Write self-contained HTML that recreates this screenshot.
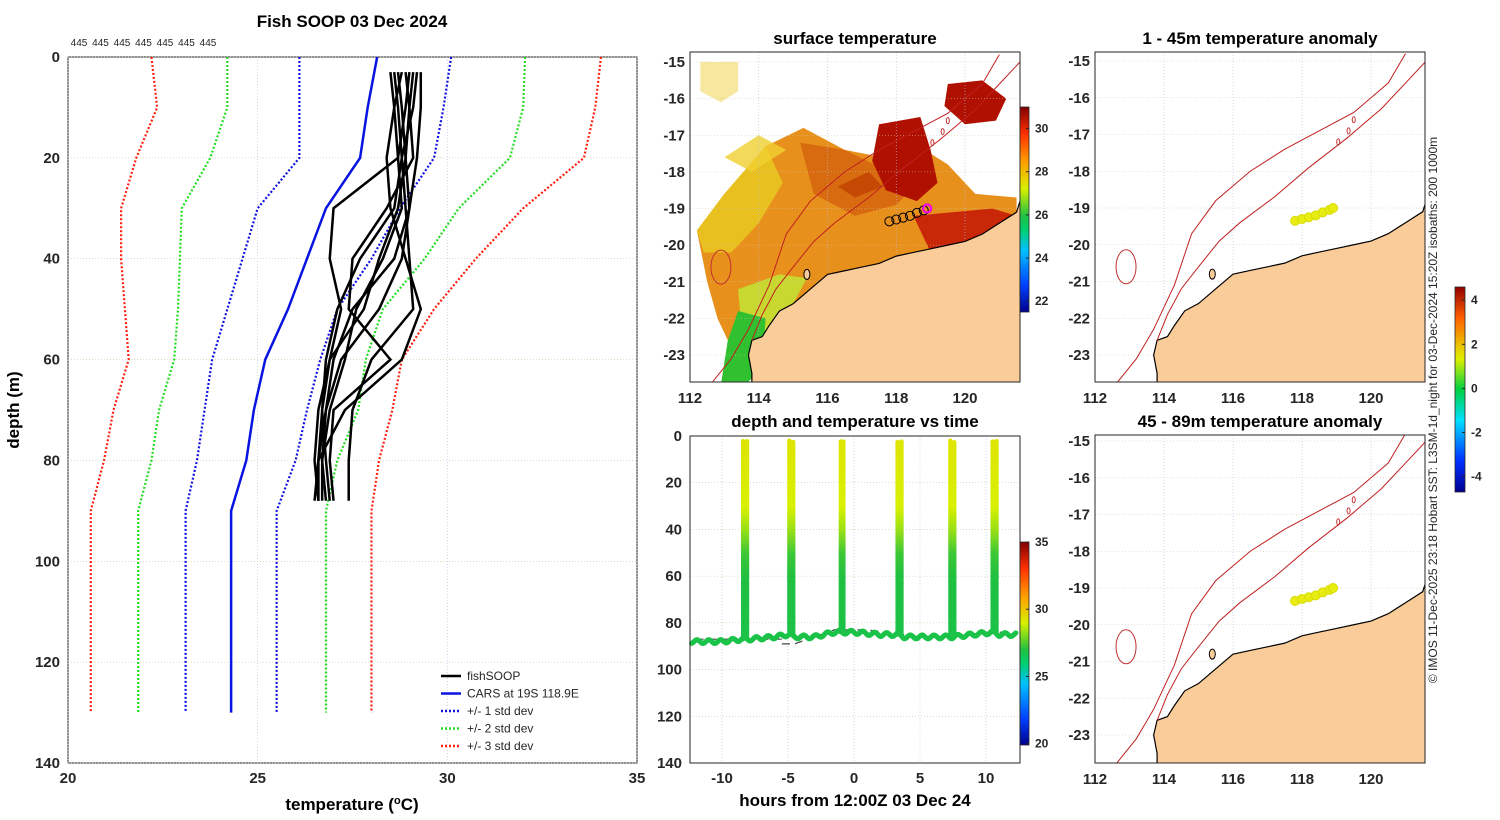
<!DOCTYPE html>
<html><head><meta charset="utf-8"><style>
html,body{margin:0;padding:0;background:#fff;}
svg{display:block;font-family:"Liberation Sans",sans-serif;}
.tk{font-size:15px;font-weight:bold;fill:#262626;}
.ti{font-size:17px;font-weight:bold;fill:#000;}
</style></head><body>
<svg id="fig" width="1500" height="820" viewBox="0 0 1500 820">
<defs>
<linearGradient id="jet" x1="0" y1="1" x2="0" y2="0">
<stop offset="0" stop-color="#00008f"/><stop offset="0.13" stop-color="#0040ff"/><stop offset="0.3" stop-color="#00c0ff"/><stop offset="0.4" stop-color="#00d070"/><stop offset="0.47" stop-color="#20c040"/><stop offset="0.6" stop-color="#d8f000"/><stop offset="0.73" stop-color="#ffa000"/><stop offset="0.87" stop-color="#ff3000"/><stop offset="1" stop-color="#800000"/>
</linearGradient>
<linearGradient id="jet2" x1="0" y1="1" x2="0" y2="0">
<stop offset="0" stop-color="#00008f"/><stop offset="0.15" stop-color="#0030ff"/><stop offset="0.35" stop-color="#00e0ff"/><stop offset="0.5" stop-color="#00d040"/><stop offset="0.65" stop-color="#e0f000"/><stop offset="0.85" stop-color="#ff6000"/><stop offset="1" stop-color="#900000"/>
</linearGradient>
<clipPath id="cm1"><rect x="690" y="52" width="330" height="330"/></clipPath>
<clipPath id="cm2"><rect x="1095" y="52" width="330" height="330"/></clipPath>
<clipPath id="cm3"><rect x="1095" y="435" width="330" height="328"/></clipPath>
</defs>
<g id="root"></g>
</svg>
<script>
// ---------- data ----------
const cdDepth=[0,10,20,30,40,50,60,70,80,90,130];
const carsT=[28.15,27.9,27.7,26.8,26.3,25.8,25.2,24.9,24.7,24.3,24.3];
const s1L=[26.1,26.1,26.1,25.0,24.6,24.2,23.8,23.6,23.4,23.1,23.1];
const s1R=[30.1,29.9,29.65,28.75,28.0,27.1,26.65,26.3,26.0,25.5,25.5];
const s2L=[24.2,24.2,23.75,23.0,22.95,22.9,22.8,22.4,22.2,21.85,21.85];
const s2R=[32.05,32.0,31.65,30.3,29.4,28.3,27.85,27.65,27.1,26.8,26.8];
const s3L=[22.2,22.35,21.8,21.4,21.4,21.5,21.6,21.2,20.95,20.6,20.6];
const s3R=[34.05,33.9,33.6,32.0,30.75,29.65,28.8,28.55,28.2,28.0,28.0];
const fishDepth=[3,10,20,30,40,50,60,70,80,88];
const fish1=[29.3,29.3,29.2,29.0,28.8,28.2,27.2,26.8,26.6,26.6];
const fish2=[28.7,28.8,28.9,29.0,28.6,27.5,27.0,26.8,26.7,26.7];
const fish3=[29.0,28.9,28.7,27.0,26.9,27.2,26.9,26.7,26.6,26.5];
const fish4=[28.6,28.7,28.8,28.9,29.0,29.1,28.0,27.5,27.4,27.4];
const fish5=[29.2,29.1,28.8,28.6,27.7,27.1,26.8,26.7,26.8,26.9];
const fish6=[28.9,29.0,29.1,28.4,27.5,27.4,28.5,27.0,26.9,27.0];
const fish7=[28.8,28.6,28.4,28.5,28.9,29.3,28.8,27.3,26.6,26.6];
const fish8=[29.1,29.0,28.9,28.7,28.2,27.8,26.9,26.6,26.5,26.6];
const fish9=[28.5,28.6,28.7,28.8,28.3,27.6,27.3,26.9,26.7,26.8];
const fishAll=[fish1,fish2,fish3,fish4,fish5,fish6,fish7,fish8,fish9];
const tempTicks=[20,25,30,35];
const depthTicks=[0,20,40,60,80,100,120,140];
// time series
const btHours=[-12.3,-10,-8.5,-8,-6,-5,-4.5,-3,-1.5,-1,0,2,3.3,3.8,5,7,7.4,9,10.5,11,12.3];
const btDepth=[88,88,87,87,86,85,86,86,84,84,84,85,85,86,86,86,86,85,84,85,85];
const spikeHours=[-8.4,-8.1,-4.9,-4.6,-1.0,-0.8,3.3,3.6,7.3,7.6,10.5,10.8];
const profD=[0,30,40,50,60,90];
const profT=[29.3,29.0,28.3,27.3,27.0,26.8];
const bathyHours=[-12,-5.5,-5.5,-4.5,-1.5,1,5,7.5,10,12];
const bathyDepth=[87,87,89,89,83,83,86,86,84,84];
const hourTicks=[-10,-5,0,5,10];
const tsDepthTicks=[0,20,40,60,80,100,120,140];
// maps
const lonTicks=[112,114,116,118,120];
const latTicks=[-15,-16,-17,-18,-19,-20,-21,-22,-23];
const coastLon=[121.6,121.5,121,120.5,120,119.5,119,118.5,118,117.5,117,116.5,116,115.5,115,114.6,114.3,114.1,113.8,113.7,113.8,113.8];
const coastLat=[-18.8,-19.1,-19.4,-19.7,-19.9,-20.0,-20.1,-20.2,-20.3,-20.5,-20.6,-20.7,-20.8,-21.2,-21.6,-21.8,-22.2,-22.5,-22.6,-23.0,-23.5,-23.8];
const iso1Lon=[121.0,120.5,119.5,118.5,117.5,116.5,115.5,114.8,114.3,113.7,113.2,112.6];
const iso1Lat=[-14.8,-15.6,-16.4,-16.9,-17.4,-18.0,-18.8,-19.7,-21.1,-22.3,-23.1,-23.8];
const iso2Lon=[121.6,121,120.3,119.3,118.2,117.2,116.2,115.6,115.0,114.5,114.1,113.8];
const iso2Lat=[-15.0,-15.6,-16.3,-17.1,-17.9,-18.7,-19.4,-19.9,-20.6,-21.2,-21.9,-22.6];
const trackLon=[117.8,118.0,118.2,118.4,118.6,118.8,118.9];
const trackLat=[-19.35,-19.3,-19.25,-19.2,-19.12,-19.05,-19.0];
const sstTicks=[30,28,26,24,22];
const tsCbTicks=[35,30,25,20];
const anomTicks=[4,2,0,-2,-4];

// ---------- helpers ----------
const NS="http://www.w3.org/2000/svg";
const root=document.getElementById('root');
function mk(tag,attrs,parent){const e=document.createElementNS(NS,tag);for(const k in attrs)e.setAttribute(k,attrs[k]);(parent||root).appendChild(e);return e;}
function txt(x,y,s,cls,anchor,parent){const t=mk('text',{x:x,y:y,class:cls||'tk','text-anchor':anchor||'middle'},parent);t.textContent=s;return t;}
const cmapV=[20,22,24.5,26,27,29,31,33,35];
const cmapC=[[0,0,143],[0,64,255],[0,192,255],[0,208,112],[32,192,64],[216,240,0],[255,160,0],[255,48,0],[128,0,0]];
function tcol(t){t=Math.max(20,Math.min(35,t));for(let i=1;i<cmapV.length;i++)if(t<=cmapV[i]){const f=(t-cmapV[i-1])/(cmapV[i]-cmapV[i-1]);const a=cmapC[i-1],b=cmapC[i];return `rgb(${Math.round(a[0]+f*(b[0]-a[0]))},${Math.round(a[1]+f*(b[1]-a[1]))},${Math.round(a[2]+f*(b[2]-a[2]))})`;}return 'rgb(128,0,0)';}
function interp(x,xs,ys){if(x<=xs[0])return ys[0];for(let i=1;i<xs.length;i++)if(x<=xs[i]){const f=(x-xs[i-1])/(xs[i]-xs[i-1]);return ys[i-1]+f*(ys[i]-ys[i-1]);}return ys[ys.length-1];}

// ---------- left panel ----------
const L={x0:68,x1:637,y0:57,y1:763};
const tx=t=>L.x0+(t-20)/15*(L.x1-L.x0);
const dy=d=>L.y0+d/140*(L.y1-L.y0);
let g=mk('g',{});


mk('rect',{x:L.x0,y:L.y0,width:L.x1-L.x0,height:L.y1-L.y0,fill:'#fff',stroke:'#262626','stroke-width':1},g);
tempTicks.forEach(t=>{mk('line',{x1:tx(t),x2:tx(t),y1:L.y0,y2:L.y1,stroke:'#b8b8e0','stroke-width':0.6,'stroke-dasharray':'1,2'},g);txt(tx(t),783,String(t),'tk','middle',g);});
depthTicks.forEach(d=>{mk('line',{x1:L.x0,x2:L.x1,y1:dy(d),y2:dy(d),stroke:'#d0c8a0','stroke-width':0.6,'stroke-dasharray':'1,2'},g);txt(L.x0-8,dy(d)+5,String(d),'tk','end',g);});
function pl(ts,ds,color,w,dash,name){const p=mk('polyline',{points:ts.map((t,i)=>tx(t)+','+dy(ds[i])).join(' '),fill:'none',stroke:color,'stroke-width':w,'stroke-dasharray':dash||'none'},g);}
pl(s3L,cdDepth,'#ff2010',2.2,'2,2','std3-left');pl(s3R,cdDepth,'#ff2010',2.2,'2,2','std3-right');
pl(s2L,cdDepth,'#22dd22',2.2,'2,2','std2-left');pl(s2R,cdDepth,'#22dd22',2.2,'2,2','std2-right');
pl(s1L,cdDepth,'#1010e0',2.2,'2,2','std1-left');pl(s1R,cdDepth,'#1010e0',2.2,'2,2','std1-right');
pl(carsT,cdDepth,'#0a14e0',2.5,null,'cars-profile');
fishAll.forEach((f,i)=>pl(f,fishDepth,'#000',2.5,null,'fish-profile-'+(i+1)));
for(let i=0;i<7;i++)txt(79+i*21.5,46,'445','tk','middle',g).setAttribute('style','font-size:10px;font-weight:normal');
txt(352,27,'Fish SOOP 03 Dec 2024','ti','middle',g);
let xl=txt(352,810,'temperature (','ti','middle',g);xl.innerHTML='temperature (<tspan dy="-6" font-size="11">o</tspan><tspan dy="6">C)</tspan>';
let yl=txt(0,0,'depth (m)','ti','middle',g);yl.setAttribute('transform','translate(19,410) rotate(-90)');
const leg=[['fishSOOP','#000',null],['CARS at 19S 118.9E','#0a14e0',null],['+/- 1 std dev','#1010e0','2,2'],['+/- 2 std dev','#22dd22','2,2'],['+/- 3 std dev','#ff2010','2,2']];
leg.forEach((l,i)=>{const y=676+i*17.5;const e=mk('line',{x1:441,x2:461,y1:y,y2:y,stroke:l[1],'stroke-width':2.5,'stroke-dasharray':l[2]||'none'},g);const t=txt(467,y+4,l[0],'tk','start',g);t.setAttribute('style','font-size:12px;font-weight:normal');});

// ---------- map helper ----------
function drawMap(box,clip,name){
 const gm=mk('g',{});
 
 
 const lx=lon=>box.x+(lon-112)/8*box.w8;
 const ly=lat=>box.ylat15+(-15-lat)/8*box.h8;
 mk('rect',{x:box.x,y:box.y,width:330,height:box.h,fill:'#fff',stroke:'#262626'},gm);
 const inner=mk('g',{'clip-path':'url(#'+clip+')'},gm);
 return {gm,inner,lx,ly};
}
function decorate(m,box,title,titleY,sst){
 const {gm,inner,lx,ly}=m;
 lonTicks.forEach(l=>{mk('line',{x1:lx(l),x2:lx(l),y1:box.y,y2:box.y+box.h,stroke:'#b8b8e0','stroke-width':0.6,'stroke-dasharray':'1,2'},inner);txt(lx(l),box.y+box.h+21,String(l),'tk','middle',gm);});
 latTicks.forEach(l=>{mk('line',{x1:box.x,x2:box.x+330,y1:ly(l),y2:ly(l),stroke:'#d0c8a0','stroke-width':0.6,'stroke-dasharray':'1,2'},inner);txt(box.x-5,ly(l)+5,String(l),'tk','end',gm);});
 const pts=coastLon.map((lo,i)=>lx(lo)+','+ly(coastLat[i]));
 pts.push(lx(113.8)+','+(box.y+box.h+5));pts.push((box.x+340)+','+(box.y+box.h+5));pts.push((box.x+340)+','+ly(-18.8));
 const land=mk('polygon',{points:pts.join(' '),fill:'#f9cc9a',stroke:'#000','stroke-width':1.2},inner);
 
 
 mk('ellipse',{cx:lx(112.9),cy:ly(-20.6),rx:10,ry:17,fill:'none',stroke:'#c03030','stroke-width':1},inner);
 mk('ellipse',{cx:lx(115.4),cy:ly(-20.8),rx:3,ry:5,fill:'#f9cc9a',stroke:'#000','stroke-width':1},inner);
 [[119.35,-16.9],[119.5,-16.6],[119.05,-17.2]].forEach(p=>mk('ellipse',{cx:lx(p[0]),cy:ly(p[1]),rx:1.5,ry:3,fill:'none',stroke:'#c03030','stroke-width':1},inner));
 const i1=mk('polyline',{points:iso1Lon.map((lo,i)=>lx(lo)+','+ly(iso1Lat[i])).join(' '),fill:'none',stroke:'#c02020','stroke-width':1},inner);
 
 const i2=mk('polyline',{points:iso2Lon.map((lo,i)=>lx(lo)+','+ly(iso2Lat[i])).join(' '),fill:'none',stroke:'#c02020','stroke-width':1},inner);
 
 trackLon.forEach((lo,i)=>{const c=mk('circle',{cx:lx(lo),cy:ly(trackLat[i]),r:4.5,fill:sst?'none':'#e8ec10',stroke:sst?'#000':'#d8dc00','stroke-width':1},inner);});
 if(sst)mk('circle',{cx:lx(118.9),cy:ly(-19.0),r:4,fill:'none',stroke:'#ff00ff','stroke-width':2},inner);
 mk('rect',{x:box.x,y:box.y,width:330,height:box.h,fill:'none',stroke:'#262626'},gm);
 txt(box.x+165,titleY,title,'ti','middle',gm);
}
const B1={x:690,y:52,h:330,w8:275,ylat15:62,h8:293};
const m1=drawMap(B1,'cm1','sst-map');
(function(){const {inner,lx,ly}=m1;
 const poly=(arr,fill,op)=>mk('polygon',{points:arr.map(p=>lx(p[0])+','+ly(p[1])).join(' '),fill:fill,opacity:op||1},inner);
 poly([[112.3,-15],[113.4,-15],[113.4,-15.8],[112.9,-16.1],[112.3,-15.8]],'#f0d040',0.5);
 poly([[112.2,-19.6],[113,-18.6],[114.2,-17.3],[115.3,-16.8],[116.5,-17.4],[117.6,-17.6],[118.5,-17.2],[119.5,-17.8],[120.3,-18.6],[121.5,-18.7],[121.5,-19.3],[119,-20.2],[116,-21],[114.5,-22],[113.8,-22.8],[113.3,-23],[112.8,-22],[112.5,-21]],'#e8901c');
 poly([[112.2,-19.6],[113,-18.6],[114.2,-17.3],[114.7,-18.3],[114,-19.4],[113.2,-20.2],[112.4,-20.2]],'#e8c020');
 poly([[113.0,-17.6],[114,-17.0],[114.8,-17.4],[113.8,-18.0]],'#f0d030',0.8);
 poly([[115.2,-17.2],[116.5,-17.4],[117.6,-17.9],[118.6,-18.3],[118,-18.9],[116.8,-19.2],[115.6,-18.6]],'#d86a10');
 poly([[113.4,-21.2],[114.6,-20.8],[115.4,-20.9],[115,-21.6],[114.3,-22.3],[113.9,-22.6],[113.5,-22.3]],'#c8d830');
 poly([[113.4,-21.8],[114.2,-22.0],[114.1,-23.4],[113.6,-23.8],[112.9,-23.8],[113.1,-22.6]],'#30c030');
 poly([[119.5,-15.6],[120.5,-15.5],[121.2,-16.0],[120.9,-16.6],[120,-16.7],[119.4,-16.2]],'#b01000');
 poly([[117.5,-16.7],[118.7,-16.5],[119.0,-17.4],[119.2,-18.3],[118.6,-18.8],[117.7,-18.5],[117.3,-17.7]],'#b01000');
 poly([[118.5,-19.2],[120.8,-19.0],[121.5,-19.2],[120.5,-19.9],[119,-20.2]],'#c82808');
 poly([[116.3,-18.4],[117.2,-18.0],[117.6,-18.4],[116.8,-18.7]],'#c04000',0.8);
})();
decorate(m1,B1,'surface temperature',44,true);
const B2={x:1095,y:52,h:330,w8:276,ylat15:61,h8:294};
const m2=drawMap(B2,'cm2','anomaly-map-1-45m');decorate(m2,B2,'1 - 45m temperature anomaly',44,false);
const B3={x:1095,y:435,h:328,w8:276,ylat15:441,h8:294};
const m3=drawMap(B3,'cm3','anomaly-map-45-89m');decorate(m3,B3,'45 - 89m temperature anomaly',427,false);

// ---------- time series ----------
const T={x0:690,x1:1020,y0:436,y1:763};
const hx=h=>854+h*13.2;
const tdy=d=>T.y0+d/140*(T.y1-T.y0);
let gt=mk('g',{});


mk('rect',{x:T.x0,y:T.y0,width:330,height:T.y1-T.y0,fill:'#fff',stroke:'#262626'},gt);
hourTicks.forEach(h=>{mk('line',{x1:hx(h),x2:hx(h),y1:T.y0,y2:T.y1,stroke:'#b8b8e0','stroke-width':0.6,'stroke-dasharray':'1,2'},gt);txt(hx(h),783,String(h),'tk','middle',gt);});
tsDepthTicks.forEach(d=>{mk('line',{x1:T.x0,x2:T.x1,y1:tdy(d),y2:tdy(d),stroke:'#d0c8a0','stroke-width':0.6,'stroke-dasharray':'1,2'},gt);txt(T.x0-8,tdy(d)+5,String(d),'tk','end',gt);});
mk('polyline',{points:bathyHours.map((h,i)=>hx(h)+','+tdy(bathyDepth[i])).join(' '),fill:'none',stroke:'#444','stroke-width':1.2,'stroke-dasharray':'8,5'},gt);
for(let h=btHours[0];h<=btHours[btHours.length-1];h+=0.08){const d=interp(h,btHours,btDepth)+Math.sin(h*7)*0.8;mk('circle',{cx:hx(h),cy:tdy(d),r:2.6,fill:tcol(interp(d,profD,profT))},gt);}
spikeHours.forEach(h=>{const bd=interp(h,btHours,btDepth);for(let d=bd;d>=2;d-=0.8){mk('circle',{cx:hx(h),cy:tdy(d),r:2.2,fill:tcol(interp(d,profD,profT))},gt);}});
mk('rect',{x:T.x0,y:T.y0,width:330,height:T.y1-T.y0,fill:'none',stroke:'#262626'},gt);
txt(855,427,'depth and temperature vs time','ti','middle',gt);
txt(855,806,'hours from 12:00Z 03 Dec 24','ti','middle',gt);

// ---------- colorbars ----------
function cbar(x,y,w,h,grad,ticks,vmax,vmin,name){const gc=mk('g',{});
 mk('rect',{x:x,y:y,width:w,height:h,fill:'url(#'+grad+')',stroke:'#262626','stroke-width':0.8},gc);
 ticks.forEach(t=>{const yy=y+(vmax-t)/(vmax-vmin)*h;mk('line',{x1:x+w-3,x2:x+w,y1:yy,y2:yy,stroke:'#262626'},gc);const e=txt(x+w+6,yy+4,String(t),'tk','start',gc);e.setAttribute('style','font-size:12px');});}
cbar(1020,107,9,205,'jet',sstTicks,31.0,21.5,'sst-colorbar');
cbar(1020,542,9,203,'jet',tsCbTicks,35,19.9,'temp-colorbar');
cbar(1455,287,10,205,'jet2',anomTicks,4.6,-4.7,'anomaly-colorbar');
const cr=txt(0,0,'© IMOS 11-Dec-2025 23:18 Hobart SST: L3SM-1d_night for 03-Dec-2024 15:20Z isobaths: 200  1000m','tk','middle');
cr.setAttribute('style','font-size:12px;font-weight:normal');
cr.setAttribute('transform','translate(1437,410) rotate(-90)');

</script>
</body></html>
